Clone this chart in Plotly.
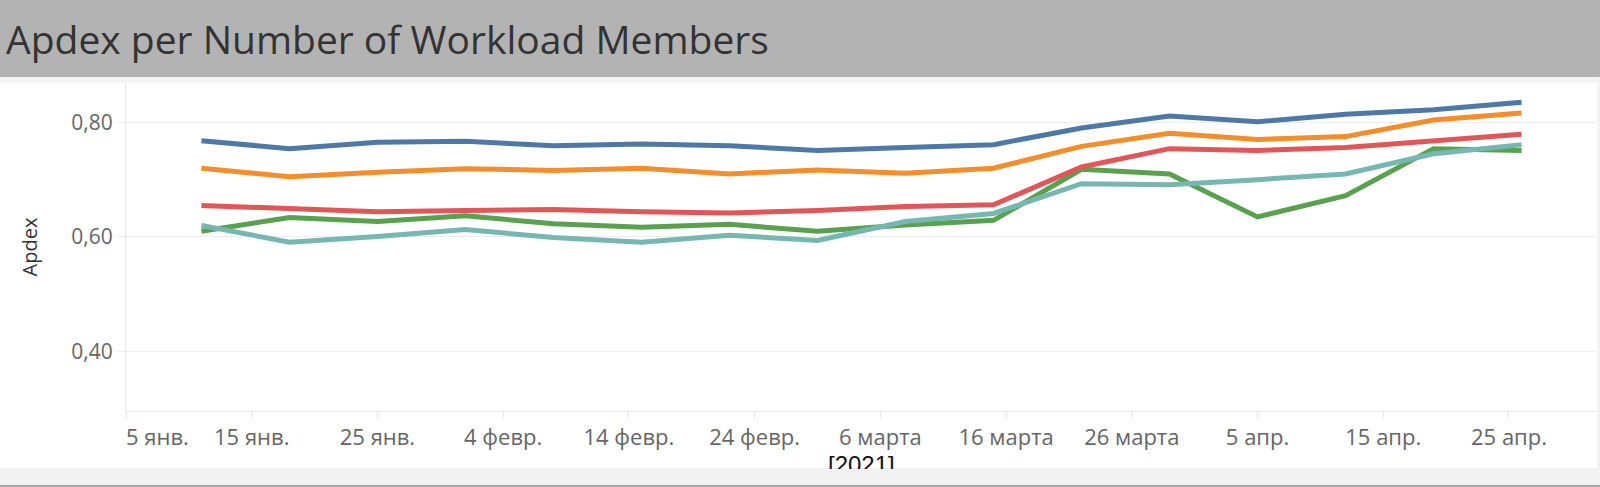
import plotly.graph_objects as go

# ---------------- data ----------------
dates = ["2021-01-11", "2021-01-18", "2021-01-25", "2021-02-01", "2021-02-08",
         "2021-02-15", "2021-02-22", "2021-03-01", "2021-03-08", "2021-03-15",
         "2021-03-22", "2021-03-29", "2021-04-05", "2021-04-12", "2021-04-19",
         "2021-04-26"]

series_blue = [0.768, 0.754, 0.765, 0.767, 0.759, 0.762, 0.759, 0.751, 0.756, 0.761,
               0.790, 0.811, 0.801, 0.814, 0.822, 0.835]
series_orange = [0.720, 0.705, 0.713, 0.719, 0.716, 0.720, 0.710, 0.717, 0.711, 0.720,
                 0.758, 0.781, 0.770, 0.775, 0.804, 0.816]
series_red = [0.655, 0.650, 0.644, 0.646, 0.648, 0.644, 0.642, 0.646, 0.653, 0.656,
              0.722, 0.754, 0.751, 0.756, 0.768, 0.779]
series_green = [0.610, 0.634, 0.627, 0.637, 0.623, 0.617, 0.622, 0.610, 0.621, 0.629,
                0.718, 0.710, 0.635, 0.672, 0.754, 0.751]
series_teal = [0.620, 0.591, 0.601, 0.613, 0.599, 0.591, 0.603, 0.594, 0.627, 0.641,
               0.693, 0.691, 0.700, 0.710, 0.745, 0.761]

x_tickvals = ["2021-01-05", "2021-01-15", "2021-01-25", "2021-02-04", "2021-02-14",
              "2021-02-24", "2021-03-06", "2021-03-16", "2021-03-26", "2021-04-05",
              "2021-04-15", "2021-04-25"]
x_ticktext = ["5 янв.", "15 янв.", "25 янв.", "4 февр.", "14 февр.", "24 февр.",
              "6 марта", "16 марта", "26 марта", "5 апр.", "15 апр.", "25 апр."]
y_tickvals = [0.4, 0.6, 0.8]
y_ticktext = ["0,40", "0,60", "0,80"]

title_text = "Apdex per Number of Workload Members"
y_title = "Apdex"
x_title = "[2021]"

# ---------------- layout geometry ----------------
W, H = 1600, 487
L, R, T, B = 126, 3, 83, 76
PW, PH = W - L - R, H - T - B


def px_x(p):
    return (p - L) / PW


def px_y(p):
    return (H - B - p) / PH


FONT = "Open Sans"

fig = go.Figure()

traces = [
    ("green", series_green, "#59a14f"),
    ("teal", series_teal, "#76b7b2"),
    ("red", series_red, "#e15759"),
    ("orange", series_orange, "#f28e2b"),
    ("blue", series_blue, "#4e79a7"),
]
for name, vals, col in traces:
    fig.add_trace(go.Scatter(x=dates, y=vals, mode="lines", name=name,
                             line=dict(color=col, width=5),
                             showlegend=False))

# pad first label to the right like the reference
x_ticktext_disp = list(x_ticktext)
x_ticktext_disp[0] = "\u00a0" * 11 + x_ticktext[0]

shapes = [
    dict(type="rect", xref="paper", yref="paper", x0=px_x(0), x1=px_x(W),
         y0=px_y(77), y1=px_y(0), fillcolor="#b3b3b3", line=dict(width=0), layer="below"),
    dict(type="rect", xref="paper", yref="paper", x0=px_x(0), x1=px_x(W),
         y0=px_y(83), y1=px_y(77), fillcolor="#f4f4f4", line=dict(width=0), layer="below"),
    dict(type="rect", xref="paper", yref="paper", x0=px_x(0), x1=px_x(W),
         y0=px_y(485), y1=px_y(468), fillcolor="#f2f2f2", line=dict(width=0), layer="below"),
    dict(type="rect", xref="paper", yref="paper", x0=px_x(0), x1=px_x(W),
         y0=px_y(H), y1=px_y(485), fillcolor="#a8a8a8", line=dict(width=0), layer="below"),
    dict(type="rect", xref="paper", yref="paper", x0=px_x(1597.5), x1=px_x(W),
         y0=px_y(468), y1=px_y(77), fillcolor="#f2f2f2", line=dict(width=0), layer="below"),
]

fig.update_layout(
    width=W, height=H,
    margin=dict(l=L, r=R, t=T, b=B, pad=0),
    paper_bgcolor="white", plot_bgcolor="white",
    font=dict(family=FONT, color="#666666"),
    title=dict(text=title_text, x=6 / W, xanchor="left", xref="container",
               y=1 - 40 / H, yanchor="middle", yref="container",
               font=dict(family=FONT, size=39, color="#333333")),
    shapes=shapes,
    annotations=[
        dict(text=x_title, xref="paper", yref="paper", x=0.5, y=px_y(450),
             xanchor="center", yanchor="top", showarrow=False, height=18,
             valign="top", borderpad=0,
             font=dict(family="Liberation Sans", size=24, color="#111111")),
    ],
    xaxis=dict(type="date", range=["2021-01-05", "2021-05-02"],
               tickmode="array", tickvals=x_tickvals, ticktext=x_ticktext_disp,
               ticks="outside", ticklen=7, tickcolor="#e8e8e8", tickwidth=1,
               showgrid=False, showline=True, linecolor="#e8e8e8", linewidth=1,
               zeroline=False, tickangle=0,
               tickfont=dict(family=FONT, size=22, color="#666666")),
    yaxis=dict(range=[0.2966, 0.8685], tickmode="array",
               tickvals=y_tickvals, ticktext=y_ticktext,
               ticks="outside", ticklen=8, tickcolor="#ececec", tickwidth=1,
               showgrid=True, gridcolor="#ececec", gridwidth=1,
               showline=True, linecolor="#e8e8e8", linewidth=1, zeroline=False,
               tickfont=dict(family=FONT, size=21, color="#666666"),
               title=dict(text=y_title, standoff=28,
                          font=dict(family=FONT, size=20, color="#333333"))),
)

fig.write_html("out.html")
